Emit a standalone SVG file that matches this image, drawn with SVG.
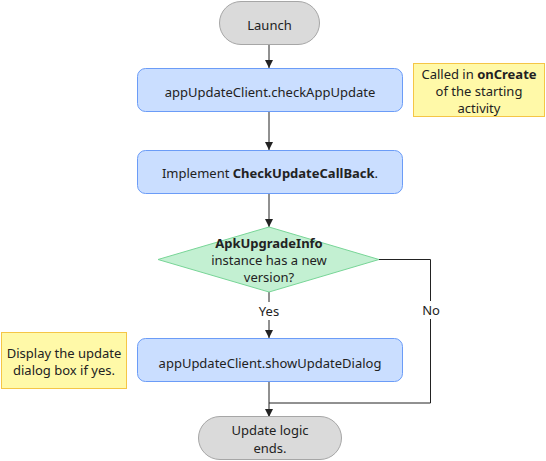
<svg xmlns="http://www.w3.org/2000/svg" width="546" height="461" viewBox="0 0 546 461">
<defs>
<marker id="arr" viewBox="0 0 10 10" refX="10" refY="5" markerWidth="8" markerHeight="8" markerUnits="userSpaceOnUse" orient="auto"><path d="M0,0 L10,5 L0,10 z" fill="#222"/></marker>
<style>
text{font-family:"Noto Sans","Open Sans","Liberation Sans",sans-serif;font-size:13px;fill:#222;text-anchor:middle}
.b{font-weight:bold}
.term{fill:#dadada;stroke:#a6a6a6;stroke-width:1}
.proc{fill:#cadeff;stroke:#6b9cf7;stroke-width:1}
.note{fill:#fff9a8;stroke:#f5c646;stroke-width:1}
.dec{fill:#c3f0d2;stroke:#78d597;stroke-width:1}
.conn{fill:none;stroke:#222;stroke-width:1}
</style>
</defs>
<g id="connectors">
<path class="conn" d="M269,45 V68" marker-end="url(#arr)"/>
<path class="conn" d="M269,112 V150" marker-end="url(#arr)"/>
<path class="conn" d="M269,194 V227" marker-end="url(#arr)"/>
<path class="conn" d="M269,292 V338" marker-end="url(#arr)"/>
<path class="conn" d="M269,382 V417" marker-end="url(#arr)"/>
<path class="conn" d="M379,259.5 H430.5 V403 H269"/>
<rect x="258" y="302" width="22" height="18" fill="#fff"/>
<text x="269" y="316">Yes</text>
<rect x="420" y="301" width="22" height="18" fill="#fff"/>
<text x="431" y="315">No</text>
</g>
<g id="launch">
<rect class="term" x="219.5" y="1.5" width="100" height="43" rx="21.5"/>
<text x="269.5" y="30">Launch</text>
</g>
<g id="check">
<rect class="proc" x="137.5" y="68.5" width="265" height="43" rx="8"/>
<text x="270" y="97">appUpdateClient.checkAppUpdate</text>
</g>
<g id="note1">
<rect class="note" x="413.5" y="63.5" width="131" height="53"/>
<text x="479" y="79">Called in <tspan class="b">onCreate</tspan></text>
<text x="479" y="96">of the starting</text>
<text x="479" y="113">activity</text>
</g>
<g id="implement">
<rect class="proc" x="137.5" y="150.5" width="265" height="43" rx="8"/>
<text x="270" y="178">Implement <tspan class="b">CheckUpdateCallBack</tspan>.</text>
</g>
<g id="decision">
<polygon class="dec" points="269,227 379,259.5 269,292 158,259.5"/>
<text class="b" x="269" y="247.5">ApkUpgradeInfo</text>
<text x="269" y="264.5">instance has a new</text>
<text x="269" y="281.5">version?</text>
</g>
<g id="note2">
<rect class="note" x="1.5" y="332.5" width="125" height="56"/>
<text x="64" y="358">Display the update</text>
<text x="64" y="375">dialog box if yes.</text>
</g>
<g id="show">
<rect class="proc" x="137.5" y="338.5" width="265" height="43" rx="8"/>
<text x="270" y="368">appUpdateClient.showUpdateDialog</text>
</g>
<g id="end">
<rect class="term" x="198.5" y="416.5" width="143" height="43" rx="21.5"/>
<text x="270" y="435">Update logic</text>
<text x="270" y="453">ends.</text>
</g>
</svg>
